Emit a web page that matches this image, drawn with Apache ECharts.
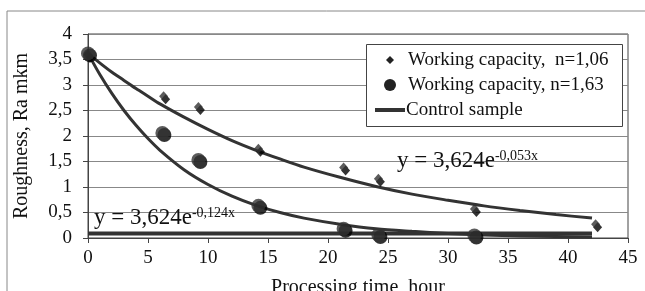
<!DOCTYPE html>
<html>
<head>
<meta charset="utf-8">
<script src="https://cdn.jsdelivr.net/npm/echarts@6/dist/echarts.min.js"></script>
<style>
  html, body { margin: 0; padding: 0; background: #fff; }
  #chart { width: 645px; height: 291px; }
</style>
</head>
<body>
<div id="chart"></div>
<script>
// точки измерений
var timeN106 = [0, 6.3, 9.2, 14.2, 21.3, 24.2, 32.2, 42.3];
var roughN106 = [3.6, 2.78, 2.57, 1.75, 1.38, 1.16, 0.57, 0.27];
var timeN163 = [0, 6.2, 9.2, 14.2, 21.3, 24.2, 32.2];
var roughN163 = [3.62, 2.06, 1.53, 0.63, 0.18, 0.06, 0.05];
// линии тренда
var trendTime = [0, 1, 2, 3, 4, 5, 6, 8, 10, 12, 14, 16, 18, 21, 24, 27, 30, 33, 36, 39, 42];
var trend053 = [3.62, 3.43, 3.25, 3.09, 2.93, 2.78, 2.63, 2.37, 2.13, 1.91, 1.72, 1.55, 1.39, 1.19, 1.01, 0.86, 0.74, 0.63, 0.54, 0.46, 0.39];
var trend124 = [3.62, 3.20, 2.83, 2.50, 2.21, 1.95, 1.72, 1.34, 1.05, 0.82, 0.64, 0.50, 0.39, 0.27, 0.18, 0.13, 0.09, 0.06, 0.04, 0.03, 0.02];
// контрольный образец
var controlTime = [0, 42];
var controlRough = [0.09, 0.09];
var xTicks = [0, 5, 10, 15, 20, 25, 30, 35, 40, 45];
var yTicks = ['0', '0,5', '1', '1,5', '2', '2,5', '3', '3,5', '4'];
var legendNames = ['Working capacity,  n=1,06', 'Working capacity, n=1,63', 'Control sample'];

function pairs(xs, ys) {
    return xs.map(function (x, i) { return [x, ys[i]]; });
}

var font = 'Liberation Serif';
var dark = '#333';

var myChart = echarts.init(document.getElementById('chart'));

var option = {
    animation: false,
    backgroundColor: '#fff',
    textStyle: { fontFamily: font },
    grid: {
        left: 88, right: 17, top: 34, bottom: 53,
        outerBoundsMode: 'none',
        containLabel: false,
        show: true, borderColor: '#444', borderWidth: 1
    },
    xAxis: {
        type: 'value', min: 0, max: 45, interval: 5,
        name: 'Processing time, hour',
        nameLocation: 'middle', nameGap: 40,
        nameTextStyle: { fontFamily: font, fontSize: 20, color: '#111' },
        axisLine: { lineStyle: { color: '#444' } },
        axisTick: { show: true, length: 5, lineStyle: { color: '#444' } },
        axisLabel: {
            fontFamily: font, fontSize: 19, color: '#111', margin: 11,
            formatter: function (v) { return xTicks.indexOf(v) >= 0 ? String(v) : ''; }
        },
        splitLine: { show: false }
    },
    yAxis: {
        type: 'value', min: 0, max: 4, interval: 0.5,
        name: 'Roughness, Ra mkm',
        nameLocation: 'middle', nameGap: 56, nameRotate: 90,
        nameTextStyle: { fontFamily: font, fontSize: 20, color: '#111' },
        axisLine: { show: true, lineStyle: { color: '#444' } },
        axisTick: { show: true, length: 5, lineStyle: { color: '#444' } },
        axisLabel: {
            fontFamily: font, fontSize: 19, color: '#111', margin: 16,
            formatter: function (v) { return yTicks[Math.round(v * 2)]; }
        },
        splitLine: { lineStyle: { color: '#888', width: 1 } }
    },
    series: [
        {
            name: 'trend053', type: 'line', smooth: 0.3, symbol: 'none',
            data: pairs(trendTime, trend053),
            lineStyle: { color: dark, width: 3 }, z: 2
        },
        {
            name: 'trend124', type: 'line', smooth: 0.3, symbol: 'none',
            data: pairs(trendTime, trend124),
            lineStyle: { color: dark, width: 3 }, z: 2
        },
        {
            name: legendNames[2], type: 'line', symbol: 'none',
            data: pairs(controlTime, controlRough),
            lineStyle: { color: dark, width: 4 }, z: 3
        },
        {
            name: legendNames[0], type: 'scatter',
            symbol: 'diamond', symbolSize: [9, 10],
            data: pairs(timeN106, roughN106),
            itemStyle: {
                color: '#333',
                shadowColor: '#000', shadowBlur: 0, shadowOffsetX: 2, shadowOffsetY: 3
            }, z: 4
        },
        {
            name: legendNames[1], type: 'scatter',
            symbol: 'circle', symbolSize: 14,
            data: pairs(timeN163, roughN163),
            itemStyle: {
                color: '#333',
                shadowColor: '#000', shadowBlur: 0, shadowOffsetX: 2, shadowOffsetY: 2
            }, z: 4
        }
    ],
    graphic: [
        {
            type: 'rect', silent: true, z: -1,
            shape: { x: 7, y: 11, width: 660, height: 300 },
            style: { fill: 'none', stroke: '#888', lineWidth: 1 }
        },
        // легенда
        {
            type: 'rect', z: 20,
            shape: { x: 366.5, y: 44.5, width: 256, height: 82 },
            style: { fill: '#fff', stroke: '#444', lineWidth: 1 }
        },
        {
            type: 'polygon', z: 21,
            shape: { points: [[390, 56], [394, 60], [390, 64], [386, 60]] },
            style: { fill: '#222' }
        },
        {
            type: 'circle', z: 21,
            shape: { cx: 390, cy: 85, r: 6 },
            style: { fill: '#222' }
        },
        {
            type: 'rect', z: 21,
            shape: { x: 375, y: 108, width: 30, height: 4 },
            style: { fill: dark }
        },
        {
            type: 'text', z: 21, x: 408, y: 60,
            style: { text: legendNames[0], fontFamily: font, fontSize: 19, fill: '#111', verticalAlign: 'middle' }
        },
        {
            type: 'text', z: 21, x: 408, y: 85,
            style: { text: legendNames[1], fontFamily: font, fontSize: 19, fill: '#111', verticalAlign: 'middle' }
        },
        {
            type: 'text', z: 21, x: 406, y: 110,
            style: { text: legendNames[2], fontFamily: font, fontSize: 19, fill: '#111', verticalAlign: 'middle' }
        },
        // уравнения трендов
        {
            type: 'text', left: 397, top: 149, z: 10,
            style: {
                text: '{a|y = 3,624e}{b|-0,053x}',
                rich: {
                    a: { fontFamily: font, fontSize: 23, fill: '#111' },
                    b: { fontFamily: font, fontSize: 14, fill: '#111', verticalAlign: 'top', padding: [0, 0, 9, 0] }
                }
            }
        },
        {
            type: 'text', left: 94, top: 206, z: 10,
            style: {
                text: '{a|y = 3,624e}{b|-0,124x}',
                rich: {
                    a: { fontFamily: font, fontSize: 23, fill: '#111' },
                    b: { fontFamily: font, fontSize: 14, fill: '#111', verticalAlign: 'top', padding: [0, 0, 9, 0] }
                }
            }
        }
    ]
};

myChart.setOption(option);
window.addEventListener('resize', function () {
    myChart.resize();
});
</script>
</body>
</html>
